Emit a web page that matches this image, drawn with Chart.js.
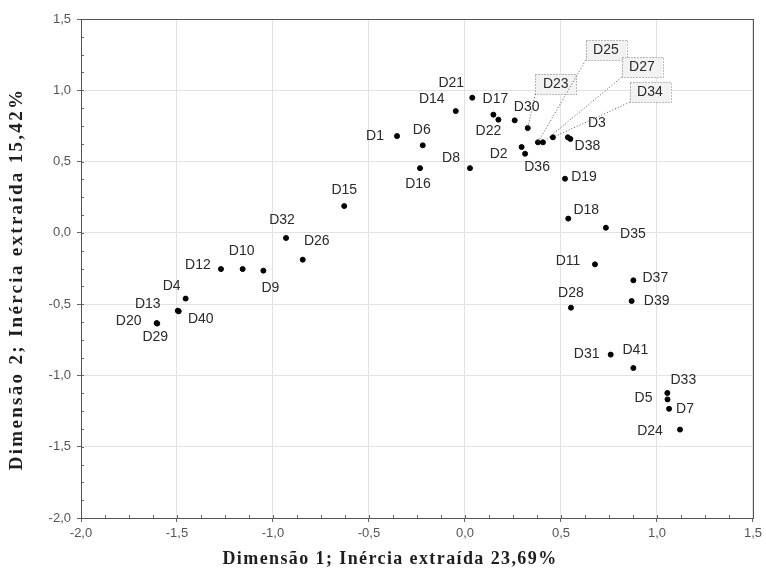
<!DOCTYPE html>
<html>
<head>
<meta charset="utf-8">
<script src="https://cdn.jsdelivr.net/npm/chart.js@4/dist/chart.umd.min.js"></script>
<style>
  html, body { margin: 0; padding: 0; background: #fff; }
  #wrap { width: 766px; height: 578px; }
</style>
</head>
<body>
<div id="wrap"><canvas id="caChart" width="766" height="578"></canvas></div>
<script>
// --- data ---
var names = ['D1','D2','D3','D4','D5','D6','D7','D8','D9','D10',
             'D11','D12','D13','D14','D15','D16','D17','D18','D19','D20',
             'D21','D22','D23','D24','D25','D26','D27','D28','D29','D30',
             'D31','D32','D33','D34','D35','D36','D37','D38','D39','D40','D41'];
var dim1 = [-0.354, 0.295, 0.536, -1.455, 1.055, -0.220, 1.063, 0.026, -1.050, -1.158,
             0.677, -1.271, -1.496, -0.048, -0.629, -0.234, 0.148, 0.538, 0.521, -1.606,
             0.038, 0.174, 0.327, 1.120, 0.380, -0.845, 0.406, 0.552, -1.603, 0.259,
             0.759, -0.932, 1.054, 0.458, 0.734, 0.313, 0.877, 0.549, 0.868, -1.491, 0.877];
var dim2 = [0.679, 0.602, 0.670, -0.461, -1.168, 0.614, -1.234, 0.454, -0.265, -0.254,
            -0.221, -0.254, -0.546, 0.854, 0.188, 0.454, 0.829, 0.100, 0.380, -0.633,
             0.948, 0.794, 0.735, -1.380, 0.635, -0.188, 0.635, -0.525, -0.636, 0.789,
            -0.854, -0.036, -1.123, 0.670, 0.036, 0.555, -0.333, 0.659, -0.478, -0.550, -0.948];
var xTicks = [-2.0, -1.5, -1.0, -0.5, 0.0, 0.5, 1.0, 1.5];
var yTicks = [-2.0, -1.5, -1.0, -0.5, 0.0, 0.5, 1.0, 1.5];
var xTitle = 'Dimensão 1; Inércia extraída 23,69%';
var yTitle = 'Dimensão 2; Inércia extraída 15,42%';

// label placement (pixel offset of the label centre from its point)
var labelOffsets = {
  D1: [-22, 0], D2: [-23, 7], D3: [29, -14], D4: [-14, -12], D5: [-24, -1],
  D6: [-1, -15], D7: [16, 0], D8: [-19, -10], D9: [7, 18], D10: [-1, -18],
  D11: [-27, -3], D12: [-23, -4], D13: [-30, -7], D14: [-24, -12], D15: [0, -16],
  D16: [-2, 16], D17: [2, -16], D18: [18, -8], D19: [19, -2], D20: [-28, -2],
  D21: [-21, -15], D22: [-10, 11], D23: [28, -44], D24: [-30, 2], D25: [68, -92],
  D26: [14, -19], D27: [99, -75], D28: [0, -15], D29: [-2, 14], D30: [12, -13],
  D31: [-24, 0], D32: [-4, -18], D33: [16, -13], D34: [97, -45], D35: [27, 6],
  D36: [12, 13], D37: [22, -2], D38: [17, 7], D39: [25, 0], D40: [22, 8], D41: [2, -18]
};
var boxedLabels = ['D23', 'D25', 'D27', 'D34'];

function fmt(v) { return v.toFixed(1).replace('.', ','); }

var points = [];
for (var i = 0; i < names.length; i++) {
  points.push({ x: dim1[i], y: dim2[i], name: names[i] });
}

var serif = '"Liberation Serif", "Times New Roman", serif';

// frame, minor ticks, axis titles and point labels
var mapPlugin = {
  id: 'mapPlugin',
  afterDraw: function(chart) {
    var ctx = chart.ctx;
    var a = chart.chartArea;
    var sx = chart.scales.x, sy = chart.scales.y;

    ctx.save();
    // minor ticks
    ctx.strokeStyle = '#666';
    ctx.lineWidth = 1;
    ctx.beginPath();
    for (var v = -2; v <= 1.5001; v += 0.125) {
      var px = Math.round(sx.getPixelForValue(v)) + 0.5;
      ctx.moveTo(px, a.bottom); ctx.lineTo(px, a.bottom - 3);
      var py = Math.round(sy.getPixelForValue(v)) + 0.5;
      ctx.moveTo(a.left, py); ctx.lineTo(a.left + 3, py);
    }
    ctx.stroke();
    // frame
    ctx.strokeStyle = '#555';
    ctx.strokeRect(Math.round(a.left) + 0.5, Math.round(a.top) + 0.5,
                   Math.round(a.right - a.left), Math.round(a.bottom - a.top));

    // axis titles (slightly letter-spaced, as in the source figure)
    ctx.fillStyle = '#1e1e1e';
    ctx.textAlign = 'center';
    ctx.textBaseline = 'middle';
    ctx.font = 'bold 18px ' + serif;
    ctx.letterSpacing = '1.4px';
    ctx.fillText(xTitle, 390, 559);
    ctx.save();
    ctx.translate(17, 279);
    ctx.rotate(-Math.PI / 2);
    ctx.font = 'bold 19px ' + serif;
    ctx.letterSpacing = '2.3px';
    ctx.fillText(yTitle, 0, 0);
    ctx.restore();
    ctx.letterSpacing = '0px';

    // labels
    var meta = chart.getDatasetMeta(0);
    ctx.font = '14px "Liberation Sans", Arial, sans-serif';
    ctx.textAlign = 'center';
    ctx.textBaseline = 'middle';
    meta.data.forEach(function(el, idx) {
      var nm = names[idx];
      var off = labelOffsets[nm] || [14, 0];
      var lx = el.x + off[0], ly = el.y + off[1];
      if (boxedLabels.indexOf(nm) >= 0) {
        var w = ctx.measureText(nm).width + 15, h = 20;
        var bx = lx - w / 2, by = ly - h / 2;
        ctx.fillStyle = '#f2f2f2';
        ctx.fillRect(bx, by, w, h);
        ctx.setLineDash([1, 2]);
        ctx.strokeStyle = '#777';
        ctx.strokeRect(Math.round(bx) + 0.5, Math.round(by) + 0.5, Math.round(w), h);
        ctx.beginPath();
        ctx.moveTo(bx, by + h);
        ctx.lineTo(el.x, el.y);
        ctx.strokeStyle = '#555';
        ctx.stroke();
        ctx.setLineDash([]);
      }
      ctx.fillStyle = '#2a2a2a';
      ctx.fillText(nm, lx, ly);
    });
    ctx.restore();
  }
};

var ctxEl = document.getElementById('caChart');
new Chart(ctxEl, {
  type: 'scatter',
  data: {
    datasets: [{
      data: points,
      backgroundColor: '#000',
      borderColor: '#000',
      pointRadius: 2.5,
      pointHoverRadius: 2.5
    }]
  },
  options: {
    responsive: false,
    animation: false,
    devicePixelRatio: 1,
    layout: { padding: { top: 19, right: 13, left: 0, bottom: 0 } },
    plugins: { legend: { display: false }, tooltip: { enabled: false } },
    scales: {
      x: {
        type: 'linear', min: -2, max: 1.5,
        afterBuildTicks: function(s) { s.ticks = xTicks.map(function(v) { return { value: v }; }); },
        afterFit: function(s) { s.height = 60; },
        ticks: {
          color: '#555', padding: 4,
          font: { family: '"Liberation Sans", Arial, sans-serif', size: 13 },
          callback: function(v) { return fmt(v); }
        },
        grid: { color: '#e2e2e2', tickLength: 4, tickColor: '#666' },
        border: { display: false },
        title: { display: false }
      },
      y: {
        type: 'linear', min: -2, max: 1.5,
        afterBuildTicks: function(s) { s.ticks = yTicks.map(function(v) { return { value: v }; }); },
        afterFit: function(s) { s.width = 81; },
        ticks: {
          color: '#555', padding: 6,
          font: { family: '"Liberation Sans", Arial, sans-serif', size: 13 },
          callback: function(v) { return fmt(v); }
        },
        grid: { color: '#e2e2e2', tickLength: 4, tickColor: '#666' },
        border: { display: false },
        title: { display: false }
      }
    }
  },
  plugins: [mapPlugin]
});
</script>
</body>
</html>
